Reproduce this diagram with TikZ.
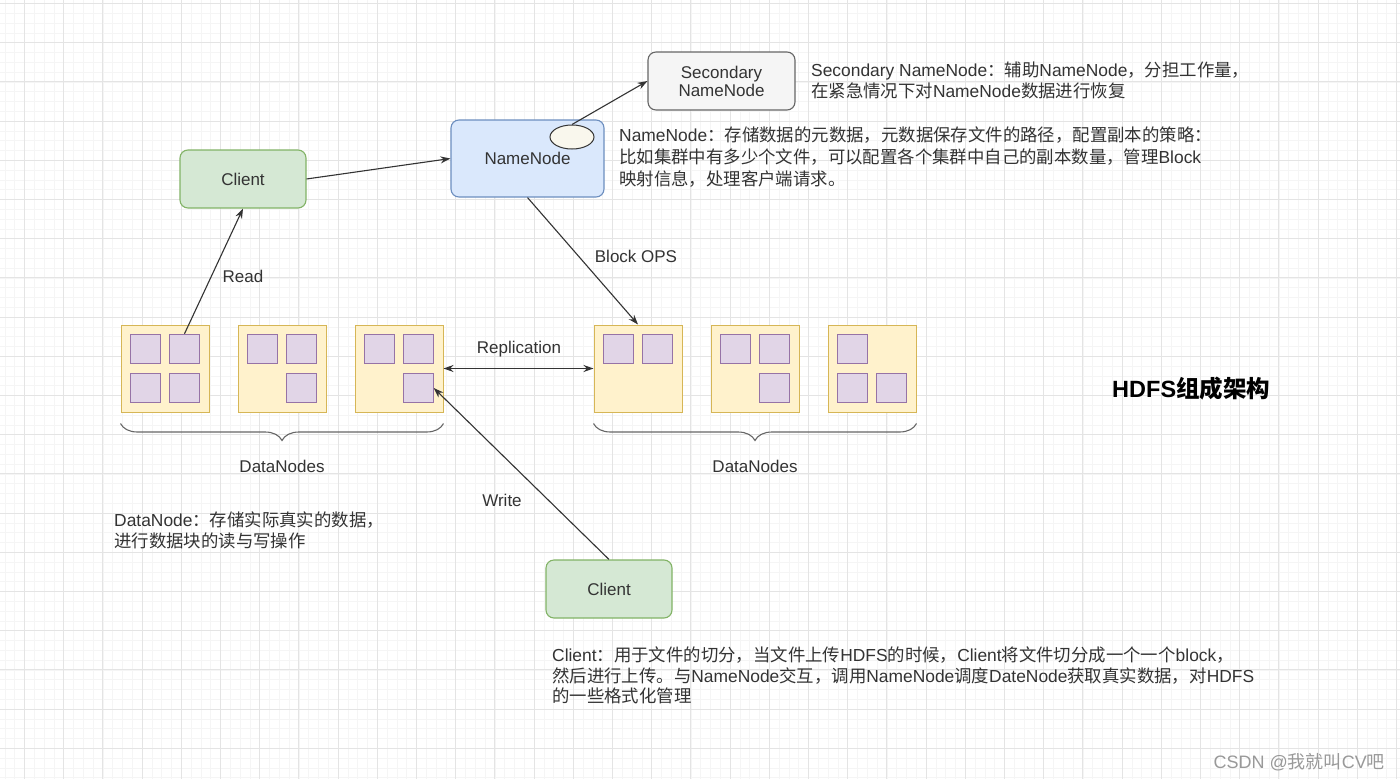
\documentclass[tikz,border=0pt]{standalone}
\usepackage{fontspec}
\setmainfont{Liberation Sans}
\newfontfamily\hdfscjk{Noto Sans CJK SC}
% switch fonts between latin and CJK text
\newXeTeXintercharclass\hdfscjkclass
\newcount\hdfsc
\def\hdfsrange#1#2{\hdfsc=#1\relax
  \loop\XeTeXcharclass\hdfsc=\hdfscjkclass
  \ifnum\hdfsc<#2\relax\advance\hdfsc by 1\relax\repeat}
\hdfsrange{"3000}{"303F}
\hdfsrange{"4E00}{"9FFF}
\hdfsrange{"FF00}{"FFEF}
\XeTeXinterchartokenstate=1
\XeTeXinterchartoks 0 \hdfscjkclass = {\hdfscjk}
\XeTeXinterchartoks 4095 \hdfscjkclass = {\hdfscjk}
\XeTeXinterchartoks \hdfscjkclass 0 = {\rmfamily}
\usetikzlibrary{arrows.meta,shapes.geometric,decorations.pathreplacing}
\definecolor{cligreen}{HTML}{D5E8D4}
\definecolor{clistroke}{HTML}{82B366}
\definecolor{nnblue}{HTML}{DAE8FC}
\definecolor{nnstroke}{HTML}{6C8EBF}
\definecolor{snngray}{HTML}{F5F5F5}
\definecolor{snnstroke}{HTML}{666666}
\definecolor{dnyellow}{HTML}{FFF2CC}
\definecolor{dnstroke}{HTML}{D6B656}
\definecolor{blkpurple}{HTML}{E1D5E7}
\definecolor{blkstroke}{HTML}{9673A6}
\definecolor{ellfill}{HTML}{F9F7ED}
\definecolor{txtgray}{HTML}{333333}
\definecolor{gridmajor}{HTML}{E4E4E4}
\definecolor{gridminor}{HTML}{F5F5F5}

\begin{document}
\begin{tikzpicture}[
  x=1pt, y=-1pt,
  every node/.style = {text=txtgray, font=\fontsize{17}{21}\selectfont},
  hdfsbox/.style = {draw, line width=1.1pt, rounded corners=8pt, align=center},
  clibox/.style = {hdfsbox, fill=cligreen, draw=clistroke, minimum width=126pt, minimum height=58pt},
  nnbox/.style = {hdfsbox, fill=nnblue, draw=nnstroke, minimum width=153pt, minimum height=77pt},
  snnbox/.style = {hdfsbox, fill=snngray, draw=snnstroke, minimum width=147pt, minimum height=58pt},
  dnbox/.style = {draw=dnstroke, fill=dnyellow, line width=1pt, minimum width=88pt, minimum height=87pt},
  blk/.style = {draw=blkstroke, fill=blkpurple, line width=1pt, minimum size=29.5pt, inner sep=0},
  ellnode/.style = {ellipse, draw=txtgray, fill=ellfill, line width=1pt, minimum width=44pt, minimum height=24pt, inner sep=0},
  conn/.style = {draw=txtgray, line width=1.1pt, -{Stealth[length=10pt,width=7pt]}},
  brc/.style = {draw=snnstroke, line width=1.1pt, decorate, decoration={brace, mirror, amplitude=17pt}},
  lbl/.style = {inner sep=1pt},
  desc/.style = {anchor=north west, align=left, inner sep=0, font=\fontsize{17.4}{20.5}\selectfont}
]
  % background and grid
  \useasboundingbox (0,0) rectangle (1400,779);
  \fill[white] (0,0) rectangle (1400,779);
  \foreach \i in {0,...,143}
    \draw[gridminor, line width=0.6pt] ({4.9+9.8*\i},0) -- ({4.9+9.8*\i},779);
  \foreach \j in {0,...,79}
    \draw[gridminor, line width=0.6pt] (0,{3.5+9.8*\j}) -- (1400,{3.5+9.8*\j});
  \foreach \i in {0,...,35}
    \draw[gridmajor, line width=0.9pt] ({24.5+39.2*\i},0) -- ({24.5+39.2*\i},779);
  \foreach \j in {0,...,19}
    \draw[gridmajor, line width=0.9pt] (0,{3.5+39.2*\j}) -- (1400,{3.5+39.2*\j});

  % name nodes and clients
  \node[snnbox] (snn) at (721.5,81) {Secondary\\[-3pt]NameNode};
  \node[nnbox] (nn) at (527.5,158.5) {NameNode};
  \node[ellnode] (ell) at (572,137) {};
  \node[clibox] (cli1) at (243,179) {Client};
  \node[clibox] (cli2) at (609,589) {Client};

  % data nodes with their blocks
  \foreach \n/\x in {1/121,2/238,3/355,4/594,5/711,6/828}
    \node[dnbox] (dn\n) at (\x+44,368.5) {};
  \foreach \n/\b/\dx/\dy in {1/tl/-1/-1,1/tr/1/-1,1/bl/-1/1,1/br/1/1,
                             2/tl/-1/-1,2/tr/1/-1,2/br/1/1,
                             3/tl/-1/-1,3/tr/1/-1,3/br/1/1,
                             4/tl/-1/-1,4/tr/1/-1,
                             5/tl/-1/-1,5/tr/1/-1,5/br/1/1,
                             6/tl/-1/-1,6/bl/-1/1,6/br/1/1}
    \node[blk] (b\n\b) at ([shift={(\dx*19.5,\dy*19.5)}]dn\n.center) {};

  % braces
  \draw[brc] ([yshift=-11pt]dn1.south west) -- ([yshift=-11pt]dn3.south east);
  \draw[brc] ([yshift=-11pt]dn4.south west) -- ([yshift=-11pt]dn6.south east);
  \node (dnl1) at (282,466) {DataNodes};
  \node (dnl2) at (755,466) {DataNodes};

  % connectors
  \draw[conn] (cli1.east) -- (nn.west);
  \draw[conn] (ell.north) -- (snn.west);
  \draw[conn] (nn.south) -- (dn4.north);
  \draw[conn] (b1tr.north) -- (cli1.south);
  \draw[conn] (cli2.north) -- (b3br.east);
  \draw[conn, {Stealth[length=10pt,width=7pt]}-{Stealth[length=10pt,width=7pt]}] (dn3.east) -- (dn4.west);
  \node[lbl] (rd) at (243,276) {Read};
  \node[lbl] (bops) at (636,256) {Block OPS};
  \node[lbl] (rep) at (519,349) {Replication};
  \node[lbl] (wr) at (502,500) {Write};

  % descriptions
  \node[desc] (snntxt) at (811,62) {Secondary NameNode：辅助NameNode，分担工作量，\\在紧急情况下对NameNode数据进行恢复};
  \node[desc, font=\fontsize{17.4}{22}\selectfont] (nntxt) at (619,127) {NameNode：存储数据的元数据，元数据保存文件的路径，配置副本的策略：\\比如集群中有多少个文件，可以配置各个集群中自己的副本数量，管理Block\\映射信息，处理客户端请求。};
  \node[desc] (dntxt) at (114,512) {DataNode：存储实际真实的数据，\\进行数据块的读与写操作};
  \node[desc] (clitxt) at (552,647) {Client：用于文件的切分，当文件上传HDFS的时候，Client将文件切分成一个一个block，\\然后进行上传。与NameNode交互，调用NameNode调度DateNode获取真实数据，对HDFS\\的一些格式化管理};
  \node[anchor=west, inner sep=0, text=black, font=\fontsize{23.5}{26}\selectfont\bfseries] (title) at (1112,389) {HDFS组成架构};
  \node[anchor=east, inner sep=0, text=black!40, font=\fontsize{18}{20}\selectfont] (mark) at (1385,762) {CSDN @我就叫CV吧};
\end{tikzpicture}
\end{document}
